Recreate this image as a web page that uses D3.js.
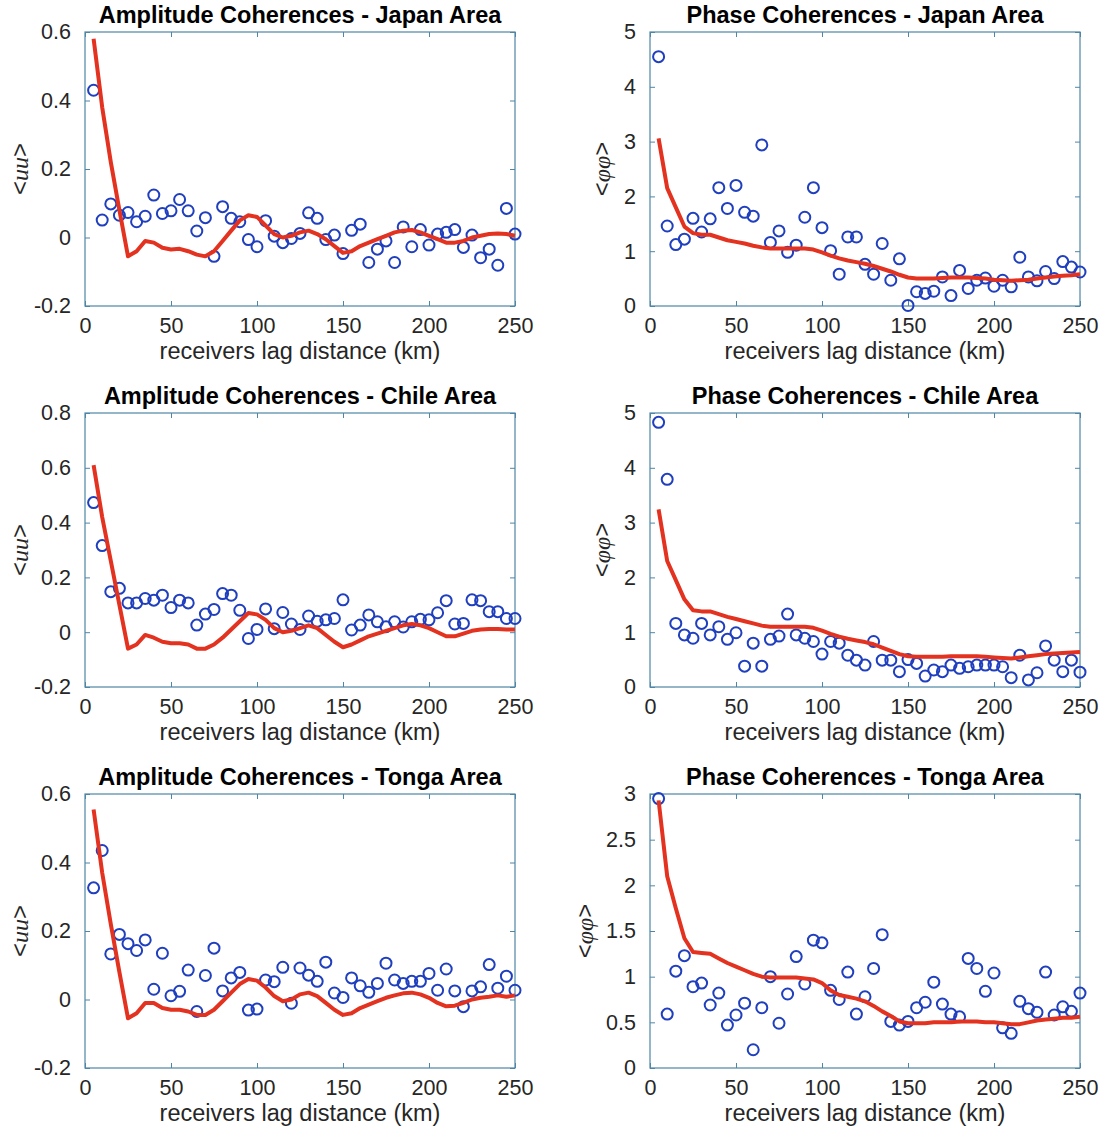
<!DOCTYPE html>
<html>
  <head>
    <meta charset="utf-8">
    <script src="https://d3js.org/d3.v7.min.js"></script>
    <title>Amplitude and Phase Coherences</title>
    <style>
      body { margin: 0; background: #fff; }
      svg text { font-family: "Liberation Sans", Arial, Helvetica, sans-serif; }
      .tick text { fill: #262626; }
    </style>
  </head>
  <body>
    <svg id="chart" width="1101" height="1131"></svg>
    <script>
      // lag distances (km), one per observation
      var lagKm = [5, 10, 15, 20, 25, 30, 35, 40, 45, 50, 55, 60, 65, 70, 75, 80, 85, 90, 95, 100,
                   105, 110, 115, 120, 125, 130, 135, 140, 145, 150, 155, 160, 165, 170, 175, 180, 185, 190, 195, 200,
                   205, 210, 215, 220, 225, 230, 235, 240, 245, 250];
      var xTicks = [0, 50, 100, 150, 200, 250];

      // Japan
      var japanAmpObs = [0.43, 0.051, 0.098, 0.065, 0.073, 0.046, 0.062, 0.124, 0.070, 0.078,
                         0.111, 0.078, 0.019, 0.058, -0.055, 0.090, 0.056, 0.046, -0.006, -0.027,
                         0.049, 0.004, -0.015, -0.003, 0.012, 0.072, 0.056, -0.006, 0.007, -0.047,
                         0.021, 0.039, -0.073, -0.034, -0.010, -0.073, 0.031, -0.027, 0.023, -0.022,
                         0.010, 0.015, 0.023, -0.029, 0.007, -0.059, -0.034, -0.081, 0.085, 0.010];
      var japanAmpModel = [0.58, 0.38, 0.22, 0.08, -0.055, -0.04, -0.01, -0.015, -0.03, -0.035,
                           -0.033, -0.04, -0.05, -0.055, -0.04, -0.01, 0.02, 0.05, 0.065, 0.06,
                           0.035, 0.01, 0.0, 0.005, 0.015, 0.02, 0.01, -0.005, -0.025, -0.045,
                           -0.04, -0.025, -0.015, -0.005, 0.005, 0.015, 0.02, 0.022, 0.015, 0.005,
                           -0.005, -0.015, -0.015, -0.01, 0.0, 0.005, 0.01, 0.012, 0.01, 0.005];
      var japanPhaseObs = [4.55, 1.46, 1.12, 1.22, 1.60, 1.35, 1.59, 2.16, 1.78, 2.20,
                           1.71, 1.64, 2.94, 1.16, 1.37, 0.98, 1.11, 1.62, 2.16, 1.43,
                           1.01, 0.58, 1.26, 1.26, 0.76, 0.58, 1.14, 0.47, 0.86, 0.01,
                           0.26, 0.23, 0.27, 0.53, 0.19, 0.65, 0.32, 0.47, 0.51, 0.36,
                           0.47, 0.35, 0.89, 0.53, 0.46, 0.63, 0.50, 0.81, 0.71, 0.62];
      var japanPhaseModel = [3.06, 2.15, 1.8, 1.45, 1.33, 1.3, 1.3, 1.25, 1.2, 1.17,
                             1.14, 1.1, 1.07, 1.05, 1.05, 1.05, 1.05, 1.05, 1.03, 0.98,
                             0.92, 0.87, 0.83, 0.8, 0.77, 0.73, 0.68, 0.63, 0.57, 0.52,
                             0.5, 0.5, 0.5, 0.51, 0.52, 0.52, 0.52, 0.51, 0.5, 0.48,
                             0.47, 0.46, 0.47, 0.48, 0.5, 0.52, 0.54, 0.55, 0.56, 0.58];

      // Chile
      var chileAmpObs = [0.473, 0.316, 0.148, 0.160, 0.107, 0.107, 0.123, 0.117, 0.135, 0.090,
                         0.117, 0.107, 0.026, 0.066, 0.083, 0.141, 0.135, 0.080, -0.023, 0.010,
                         0.085, 0.013, 0.072, 0.03, 0.01, 0.059, 0.04, 0.045, 0.05, 0.118,
                         0.008, 0.026, 0.063, 0.038, 0.02, 0.038, 0.019, 0.038, 0.047, 0.045,
                         0.071, 0.115, 0.03, 0.032, 0.118, 0.115, 0.075, 0.075, 0.05, 0.05];
      var chileAmpModel = [0.61, 0.42, 0.26, 0.1, -0.06, -0.045, -0.01, -0.02, -0.035, -0.04,
                           -0.04, -0.045, -0.06, -0.06, -0.045, -0.02, 0.01, 0.04, 0.07, 0.065,
                           0.045, 0.015, 0.0, 0.005, 0.015, 0.025, 0.015, -0.01, -0.035, -0.055,
                           -0.045, -0.03, -0.015, -0.005, 0.005, 0.015, 0.025, 0.03, 0.025, 0.015,
                           0.0, -0.015, -0.015, -0.005, 0.005, 0.01, 0.012, 0.012, 0.01, 0.01];
      var chilePhaseObs = [4.83, 3.79, 1.16, 0.95, 0.89, 1.16, 0.95, 1.10, 0.87, 0.99,
                           0.38, 0.80, 0.38, 0.87, 0.93, 1.33, 0.95, 0.89, 0.83, 0.60,
                           0.83, 0.80, 0.58, 0.49, 0.40, 0.83, 0.49, 0.49, 0.28, 0.50,
                           0.43, 0.20, 0.31, 0.28, 0.40, 0.34, 0.37, 0.40, 0.40, 0.40,
                           0.37, 0.17, 0.58, 0.13, 0.26, 0.75, 0.49, 0.28, 0.49, 0.27];
      var chilePhaseModel = [3.24, 2.3, 1.95, 1.6, 1.4, 1.38, 1.38, 1.33, 1.28, 1.24,
                             1.2, 1.16, 1.12, 1.1, 1.1, 1.1, 1.1, 1.1, 1.08, 1.03,
                             0.97, 0.92, 0.88, 0.85, 0.82, 0.78, 0.72, 0.66, 0.6, 0.56,
                             0.55, 0.55, 0.55, 0.55, 0.56, 0.56, 0.56, 0.56, 0.55, 0.54,
                             0.53, 0.52, 0.54, 0.56, 0.58, 0.6, 0.61, 0.62, 0.63, 0.64];

      // Tonga
      var tongaAmpObs = [0.326, 0.435, 0.133, 0.190, 0.163, 0.143, 0.174, 0.030, 0.135, 0.011,
                         0.024, 0.086, -0.035, 0.070, 0.150, 0.025, 0.063, 0.079, -0.031, -0.028,
                         0.057, 0.052, 0.094, -0.011, 0.092, 0.071, 0.053, 0.109, 0.019, 0.006,
                         0.063, 0.040, 0.021, 0.047, 0.106, 0.057, 0.047, 0.053, 0.053, 0.076,
                         0.027, 0.089, 0.025, -0.021, 0.025, 0.037, 0.102, 0.033, 0.068, 0.027];
      var tongaAmpModel = [0.555, 0.37, 0.22, 0.08, -0.055, -0.04, -0.01, -0.01, -0.025, -0.03,
                           -0.03, -0.035, -0.045, -0.045, -0.03, -0.005, 0.02, 0.045, 0.06, 0.055,
                           0.035, 0.01, -0.005, 0.0, 0.015, 0.02, 0.01, -0.01, -0.03, -0.045,
                           -0.04, -0.025, -0.015, -0.005, 0.005, 0.012, 0.018, 0.02, 0.015, 0.005,
                           -0.01, -0.02, -0.018, -0.01, 0.0, 0.005, 0.008, 0.012, 0.008, 0.012];
      var tongaPhaseObs = [2.95, 0.59, 1.06, 1.23, 0.89, 0.93, 0.69, 0.82, 0.47, 0.58,
                           0.71, 0.20, 0.66, 1.00, 0.49, 0.81, 1.22, 0.92, 1.40, 1.37,
                           0.85, 0.75, 1.05, 0.59, 0.78, 1.09, 1.46, 0.51, 0.47, 0.51,
                           0.66, 0.72, 0.94, 0.70, 0.59, 0.56, 1.20, 1.09, 0.84, 1.04,
                           0.44, 0.38, 0.73, 0.65, 0.61, 1.05, 0.58, 0.67, 0.62, 0.82];
      var tongaPhaseModel = [2.93, 2.1, 1.75, 1.42, 1.27, 1.26, 1.25, 1.2, 1.15, 1.11,
                             1.07, 1.03, 1.0, 0.99, 0.99, 0.99, 0.99, 0.98, 0.97, 0.93,
                             0.85, 0.8, 0.78, 0.76, 0.73, 0.68, 0.62, 0.57, 0.51, 0.49,
                             0.49, 0.49, 0.5, 0.5, 0.5, 0.51, 0.51, 0.51, 0.5, 0.5,
                             0.49, 0.48, 0.48, 0.5, 0.52, 0.53, 0.54, 0.55, 0.55, 0.56];

      var ampTicksJapan = [-0.2, 0, 0.2, 0.4, 0.6];
      var ampTicksChile = [-0.2, 0, 0.2, 0.4, 0.6, 0.8];
      var ampTicksTonga = [-0.2, 0, 0.2, 0.4, 0.6];
      var phaseTicks5 = [0, 1, 2, 3, 4, 5];
      var phaseTicksTonga = [0, 0.5, 1, 1.5, 2, 2.5, 3];

      var panels = [
        { title: "Amplitude Coherences - Japan Area", obs: japanAmpObs, model: japanAmpModel, ticks: ampTicksJapan, sym: "u", col: 0, row: 0, labX: -57 },
        { title: "Phase Coherences - Japan Area", obs: japanPhaseObs, model: japanPhaseModel, ticks: phaseTicks5, sym: "\u03c6", col: 1, row: 0, labX: -40 },
        { title: "Amplitude Coherences - Chile Area", obs: chileAmpObs, model: chileAmpModel, ticks: ampTicksChile, sym: "u", col: 0, row: 1, labX: -57 },
        { title: "Phase Coherences - Chile Area", obs: chilePhaseObs, model: chilePhaseModel, ticks: phaseTicks5, sym: "\u03c6", col: 1, row: 1, labX: -40 },
        { title: "Amplitude Coherences - Tonga Area", obs: tongaAmpObs, model: tongaAmpModel, ticks: ampTicksTonga, sym: "u", col: 0, row: 2, labX: -57 },
        { title: "Phase Coherences - Tonga Area", obs: tongaPhaseObs, model: tongaPhaseModel, ticks: phaseTicksTonga, sym: "\u03c6", col: 1, row: 2, labX: -57 }
      ];

      var svg = d3.select("#chart");
      var colLeft = [85, 650], plotW = 430;
      var rowTop = [32, 413, 794], plotH = 274;
      var boxColor = "#4f86a6";

      panels.forEach(function (p) {
        var x0 = colLeft[p.col], y0 = rowTop[p.row];
        var g = svg.append("g").attr("transform", "translate(" + x0 + "," + y0 + ")");
        var x = d3.scaleLinear().domain([0, 250]).range([0, plotW]);
        var y = d3.scaleLinear().domain(d3.extent(p.ticks)).range([plotH, 0]);
        var fmt = function (d) { return d3.format("")(d).replace("\u2212", "-"); };

        // box
        g.append("rect").attr("width", plotW).attr("height", plotH)
          .attr("fill", "#fff").attr("stroke", boxColor).attr("stroke-width", 1.2);

        // axes with ticks inside, mirrored on top/right
        var styleAxis = function (sel) {
          sel.select(".domain").remove();
          sel.selectAll(".tick line").attr("stroke", boxColor).attr("stroke-width", 1);
          sel.selectAll(".tick text").attr("font-size", 21.5);
        };
        g.append("g").attr("transform", "translate(0," + plotH + ")")
          .call(d3.axisBottom(x).tickValues(xTicks).tickSizeInner(-5).tickPadding(12).tickFormat(fmt))
          .call(styleAxis);
        g.append("g")
          .call(d3.axisTop(x).tickValues(xTicks).tickSizeInner(-5).tickFormat(""))
          .call(styleAxis);
        g.append("g")
          .call(d3.axisLeft(y).tickValues(p.ticks).tickSizeInner(-5).tickPadding(14).tickFormat(fmt))
          .call(styleAxis);
        g.append("g").attr("transform", "translate(" + plotW + ",0)")
          .call(d3.axisRight(y).tickValues(p.ticks).tickSizeInner(-5).tickFormat(""))
          .call(styleAxis);

        // observations
        g.selectAll("circle.obs")
          .data(p.obs)
          .enter().append("circle")
          .attr("class", "obs")
          .attr("cx", function (d, i) { return x(lagKm[i]); })
          .attr("cy", function (d) { return y(d); })
          .attr("r", 5.5)
          .attr("fill", "none")
          .attr("stroke", "#1f3fbf")
          .attr("stroke-width", 2);

        // model curve
        var line = d3.line()
          .x(function (d, i) { return x(lagKm[i]); })
          .y(function (d) { return y(d); });
        g.append("path")
          .datum(p.model)
          .attr("d", line)
          .attr("fill", "none")
          .attr("stroke", "#e3321f")
          .attr("stroke-width", 4)
          .attr("stroke-linejoin", "round");

        // title
        g.append("text")
          .attr("x", plotW / 2).attr("y", -9)
          .attr("text-anchor", "middle")
          .attr("font-size", 23.5).attr("font-weight", "bold")
          .attr("fill", "#000")
          .text(p.title);

        // x label
        g.append("text")
          .attr("x", plotW / 2).attr("y", plotH + 53)
          .attr("text-anchor", "middle")
          .attr("font-size", 23.5)
          .attr("fill", "#262626")
          .text("receivers lag distance (km)");

        // y label
        var yl = g.append("text")
          .attr("transform", "translate(" + p.labX + "," + (plotH / 2) + ") rotate(-90)")
          .attr("text-anchor", "middle")
          .attr("font-size", 24)
          .attr("fill", "#262626");
        yl.append("tspan").text("<");
        yl.append("tspan").attr("font-family", "'Liberation Serif', 'DejaVu Serif', serif")
          .attr("font-style", "italic").text(p.sym + p.sym);
        yl.append("tspan").text(">");
      });
    </script>
  </body>
</html>
